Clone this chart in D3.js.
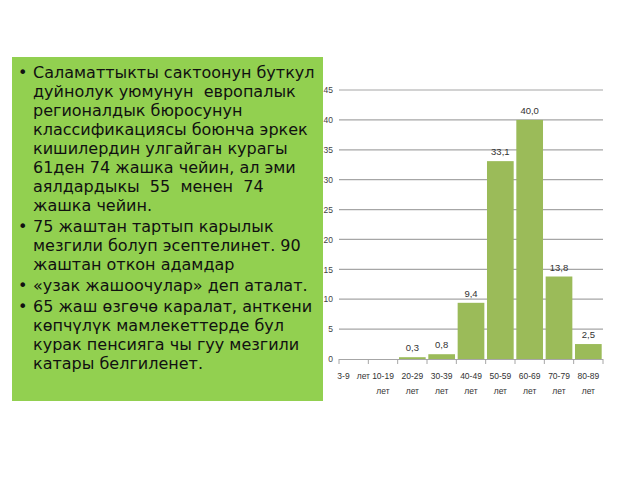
<!DOCTYPE html>
<html><head><meta charset="utf-8">
<script src="https://cdn.jsdelivr.net/npm/d3@7"></script>
<style>body{margin:0;background:#fff}svg{display:block}text{white-space:pre}</style>
</head><body>
<script>
const categories = ["3-9 лет","10-19 лет","20-29 лет","30-39 лет","40-49 лет","50-59 лет","60-69 лет","70-79 лет","80-89 лет"];
const values = [0,0,0.3,0.8,9.4,33.1,40.0,13.8,2.5];
const valueLabels = ["","","0,3","0,8","9,4","33,1","40,0","13,8","2,5"];
const yTicks = [0,5,10,15,20,25,30,35,40,45];
const paragraphs = [
 ["Саламаттыкты сактоонун буткул","дуйнолук уюмунун  европалык","регионалдык бюросунун","классификациясы боюнча эркек","кишилердин улгайган курагы","61ден 74 жашка чейин, ал эми","аялдардыкы  55  менен  74","жашка чейин."],
 ["75 жаштан тартып карылык","мезгили болуп эсептелинет. 90","жаштан откон адамдар"],
 ["«узак жашоочулар» деп аталат."],
 ["65 жаш өзгөчө каралат, анткени","көпчүлүк мамлекеттерде бул","курак пенсияга чы гуу мезгили","катары белгиленет."]
];

const svg = d3.select("body").append("svg").attr("width",640).attr("height",480);
svg.append("rect").attr("width",640).attr("height",480).attr("fill","#fff");

// text box
svg.append("rect").attr("x",12).attr("y",57).attr("width",311).attr("height",344).attr("fill","#92D050");
const tg = svg.append("g").attr("font-family","DejaVu Sans").attr("font-size","16px").attr("fill","#111");
let yb = 78;
paragraphs.forEach((p,pi)=>{
  if(pi>0) yb += 21;
  tg.append("text").attr("x",18).attr("y",yb).text("•");
  p.forEach((line,li)=>{
    if(li>0) yb += 19;
    tg.append("text").attr("x",33).attr("y",yb).attr("xml:space","preserve").text(line);
  });
});

// chart
const x = d3.scaleBand().domain(categories).range([339,603]).paddingInner(0.09).paddingOuter(0.045);
const y = d3.scaleLinear().domain([0,45]).range([359,90]);

const grid = svg.append("g");
grid.selectAll("line").data(yTicks.filter(d=>d>0)).join("line")
  .attr("x1",339).attr("x2",603).attr("y1",d=>y(d)).attr("y2",d=>y(d))
  .attr("stroke","#a6a6a6").attr("stroke-width",1.2);

const yAxis = svg.append("g").attr("transform","translate(339,0)")
  .call(d3.axisLeft(y).tickValues(yTicks).tickSize(0).tickPadding(6).tickFormat(d3.format("d")));
yAxis.select(".domain").remove();
yAxis.selectAll("text").attr("font-family","Liberation Sans Narrow, Liberation Sans").attr("font-size","8.5px").attr("fill","#444");

svg.append("g").selectAll("rect").data(values).join("rect")
  .attr("x",(d,i)=>x(categories[i])).attr("width",x.bandwidth())
  .attr("y",d=>y(d)).attr("height",d=>y(0)-y(d)).attr("fill","#9BBB59");

svg.append("g").selectAll("text").data(values).join("text")
  .attr("x",(d,i)=>x(categories[i])+x.bandwidth()/2).attr("y",d=>y(d)-6)
  .attr("text-anchor","middle").attr("font-family","Liberation Sans Narrow, Liberation Sans").attr("font-size","9.5px").attr("fill","#333")
  .text((d,i)=>valueLabels[i]);

// x axis
const xb = d3.scaleLinear().domain([0,categories.length]).range([339,603]);
const xa = svg.append("g");
xa.append("line").attr("x1",339).attr("x2",603).attr("y1",359.5).attr("y2",359.5).attr("stroke","#a6a6a6").attr("stroke-width",1.2);
xa.selectAll("line.t").data(d3.range(categories.length+1)).join("line").attr("class","t")
  .attr("x1",d=>xb(d)).attr("x2",d=>xb(d)).attr("y1",359).attr("y2",364).attr("stroke","#a6a6a6");
categories.forEach((c,i)=>{
  const cx = xb(i+0.5);
  const parts = c.split(" ");
  const t = xa.append("text").attr("text-anchor","middle").attr("font-family","Liberation Sans Narrow, Liberation Sans").attr("font-size","8.5px").attr("fill","#333");
  if(i===0){ t.attr("x",cx).attr("y",379).text(parts[0]+"   "+parts[1]); }
  else {
    t.append("tspan").attr("x",cx).attr("y",379).text(parts[0]);
    t.append("tspan").attr("x",cx).attr("y",394).text(parts[1]);
  }
});
</script>
</body></html>
